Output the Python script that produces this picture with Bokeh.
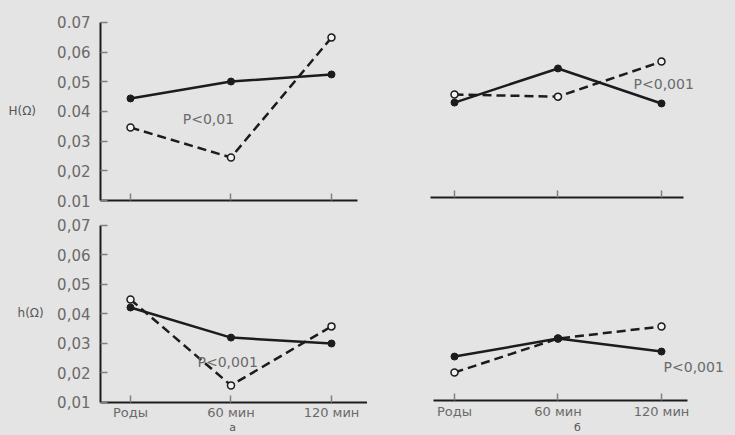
from bokeh.plotting import figure
from bokeh.layouts import column, row
from bokeh.models import Range1d, FixedTicker, Label
from bokeh.embed import file_html
from bokeh.resources import INLINE

# ---- data ----
times = ["Роды", "60 мин", "120 мин"]
xs = [0, 1, 2]
y_ticks = [0.01, 0.02, 0.03, 0.04, 0.05, 0.06, 0.07]
top_tick_labels = ["0.01", "0,02", "0,03", "0.04", "0,05", "0,06", "0.07"]
bot_tick_labels = ["0,01", "0,02", "0,03", "0,04", "0,05", "0,06", "0,07"]

# panel a, H(Ω)
a_H_solid = [0.0444, 0.0501, 0.0525]
a_H_dashed = [0.0346, 0.0245, 0.0649]
# panel б, H(Ω)
b_H_solid = [0.0420, 0.0535, 0.0417]
b_H_dashed = [0.0447, 0.0440, 0.0558]
# panel a, h(Ω)
a_h_solid = [0.0422, 0.0320, 0.0300]
a_h_dashed = [0.0449, 0.0158, 0.0358]
# panel б, h(Ω)
b_h_solid = [0.0249, 0.0310, 0.0266]
b_h_dashed = [0.0195, 0.0310, 0.0351]

BG = "#e4e4e4"
INK = "#1c1c1c"
TXT = "#6a6a6a"
TICK = "#808080"
FONT = "DejaVu Sans"


def panel(w, h, xr, yr, xbounds, yaxis_at=None, xlabels=False, tick_labels=None):
    p = figure(width=w, height=h, output_backend="svg", toolbar_location=None,
               x_range=Range1d(*xr), y_range=Range1d(*yr),
               y_axis_type="linear" if yaxis_at is not None else None,
               min_border=0, min_border_left=0, min_border_right=0,
               min_border_top=0, min_border_bottom=0,
               background_fill_color=BG, border_fill_color=BG,
               outline_line_color=None)
    p.xgrid.visible = False
    p.ygrid.visible = False
    ax = p.xaxis[0]
    ax.fixed_location = 0.01
    ax.bounds = xbounds
    ax.axis_line_color = INK
    ax.axis_line_width = 2
    if xlabels:
        ax.ticker = FixedTicker(ticks=xs)
        ax.major_label_overrides = {x: t for x, t in zip(xs, times)}
        ax.major_label_text_font = FONT
        ax.major_label_text_font_size = "13px"
        ax.major_label_text_color = TXT
        ax.major_label_standoff = 3
        ax.major_tick_in = 7
        ax.major_tick_out = 0
        ax.major_tick_line_color = TICK
        ax.major_tick_line_width = 1.5
        ax.minor_tick_line_color = None
    else:
        ax.ticker = FixedTicker(ticks=[], minor_ticks=xs)
        ax.minor_tick_in = 7
        ax.minor_tick_out = 0
        ax.minor_tick_line_color = TICK
        ax.minor_tick_line_width = 1.5
        ax.major_label_standoff = 0
    if yaxis_at is not None:
        ya = p.yaxis[0]
        ya.fixed_location = yaxis_at
        ya.ticker = FixedTicker(ticks=y_ticks)
        ya.major_label_overrides = {v: t for v, t in zip(y_ticks, tick_labels)}
        ya.bounds = (0.01, 0.07)
        ya.axis_line_color = INK
        ya.axis_line_width = 2
        ya.major_tick_in = 7
        ya.major_tick_out = 0
        ya.major_tick_line_color = TICK
        ya.major_tick_line_width = 1.5
        ya.minor_tick_line_color = None
        ya.major_label_text_font = FONT
        ya.major_label_text_font_size = "15px"
        ya.major_label_text_color = TXT
        ya.major_label_standoff = 10
    return p


def draw(p, solid, dashed):
    p.line(xs, solid, line_color=INK, line_width=2.5)
    p.line(xs, dashed, line_color=INK, line_width=2.5, line_dash="9 5")
    p.scatter(xs, dashed, marker="circle", size=7, fill_color="#f2f2f2",
              line_color=INK, line_width=1.5)
    p.scatter(xs, solid, marker="circle", size=7, fill_color=INK,
              line_color=INK, line_width=1)


def lab(p, x, y, text, size="14px", align="left", color=TXT):
    p.add_layout(Label(x=x, y=y, text=text, text_font=FONT,
                       text_font_size=size, text_color=color,
                       text_align=align, text_baseline="middle"))


# top-left (a, H): figure 367x210, x0 at 130px, 100.5 px/step; 0.01 at 200px, 2967 px/unit
tl = panel(367, 210, (-1.2935, 2.3582), (0.00663, 0.07741),
           (-0.2985, 2.2587), yaxis_at=-0.2985, tick_labels=top_tick_labels)
draw(tl, a_H_solid, a_H_dashed)
lab(tl, 0.52, 0.0376, "P<0,01")
lab(tl, -1.214, 0.0403, "H(Ω)", size="12px", color="#555555")

# top-right (б, H): figure 368x210, x0 at 87px local, 103.5 px/step; 0.01 at 197px
tr = panel(368, 210, (-0.8406, 2.715), (0.00562, 0.0764),
           (-0.2319, 2.2126))
draw(tr, b_H_solid, b_H_dashed)
lab(tr, 1.73, 0.0484, "P<0,001")

# bottom-left (a, h): figure 367x225, 0.01 at 192px local, 2950 px/unit
bl = panel(367, 225, (-1.2935, 2.3582), (-0.00119, 0.07508),
           (-0.2985, 2.3582), yaxis_at=-0.2985, xlabels=True,
           tick_labels=bot_tick_labels)
draw(bl, a_h_solid, a_h_dashed)
lab(bl, 0.667, 0.02356, "P<0,001")
lab(bl, -1.124, 0.0402, "h(Ω)", size="12px", color="#555555")
lab(bl, 1.015, 0.00153, "а", size="11px", align="center", color="#555555")

# bottom-right (б, h): figure 368x225, 0.01 at 190px local
br = panel(368, 225, (-0.8406, 2.715), (-0.00186, 0.07441),
           (-0.2029, 2.2512), xlabels=True)
draw(br, b_h_solid, b_h_dashed)
lab(br, 2.02, 0.02136, "P<0,001")
lab(br, 1.188, 0.00085, "б", size="11px", align="center", color="#555555")

st = {"background-color": BG}
layout = column(row(tl, tr, styles=st), row(bl, br, styles=st), styles=st)
open("out.html", "w").write(file_html(layout, INLINE))
